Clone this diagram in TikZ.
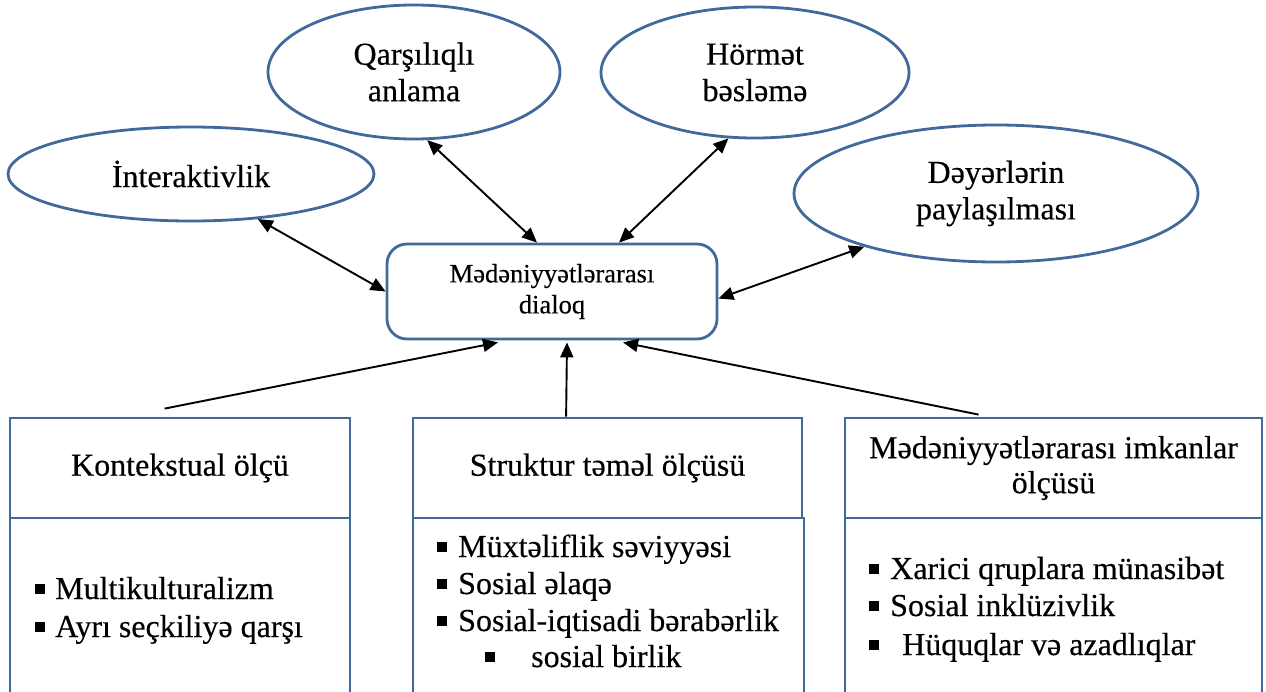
\documentclass[tikz,border=0pt]{standalone}
\usepackage{fontspec}
\setmainfont{Liberation Serif}[UprightFeatures={FakeBold=0.35}]
\usetikzlibrary{arrows.meta,shapes.geometric,calc}
\definecolor{bord}{RGB}{65,105,155}
\newcommand\sqb{\rule[5pt]{10pt}{10pt}}
\begin{document}
\begin{tikzpicture}[x=1pt,y=-1pt,
  ell/.style={ellipse,draw=bord,line width=2.8pt,inner sep=0pt,align=center,font=\fontsize{32}{36.5}\selectfont},
  hdr/.style={rectangle,draw=bord,line width=2.8pt,inner sep=0pt,align=center,font=\fontsize{32}{35}\selectfont},
  bodybox/.style={rectangle,draw=bord,line width=2.8pt,inner sep=0pt},
  item/.style={anchor=base west,inner sep=0pt,font=\fontsize{32}{37}\selectfont},
  biarr/.style={{Triangle[length=15pt,width=13pt]}-{Triangle[length=15pt,width=13pt]},line width=1.9pt},
  onearr/.style={-{Triangle[length=15pt,width=13pt]},line width=1.9pt}
]
\useasboundingbox (0,0) rectangle (1266,691);
\clip (0,0) rectangle (1266,691);

% ellipses
\node[ell,minimum width=366pt,minimum height=94pt] (int) at (191,174) {İnteraktivlik};
\node[ell,minimum width=292pt,minimum height=134pt] (qa) at (414,72) {Qarşılıqlı\\anlama};
\node[ell,minimum width=308pt,minimum height=131pt] (hb) at (755,72.5) {Hörmət\\bəsləmə};
\node[ell,minimum width=404pt,minimum height=137pt] (dp) at (996,193.5) {Dəyərlərin\\paylaşılması};

% central box
\node[rectangle,rounded corners=20pt,draw=bord,line width=2.8pt,minimum width=330pt,minimum height=95pt,
      align=center,font=\fontsize{26.5}{31}\selectfont] (dlg) at (552,291.5) {Mədəniyyətlərarası\\dialoq};

% header boxes
\node[hdr,minimum width=340pt,minimum height=100pt] (h1) at (180,468) {Kontekstual ölçü};
\node[hdr,minimum width=389pt,minimum height=100pt] (h2) at (607.5,468) {Struktur təməl ölçüsü};
\node[hdr,minimum width=417pt,minimum height=100pt] (h3) at (1053.5,468) {Mədəniyyətlərarası imkanlar\\ölçüsü};

% body boxes
\node[bodybox,minimum width=340pt,minimum height=200pt] (b1) at (180,618) {};
\node[bodybox,minimum width=391pt,minimum height=200pt] (b2) at (608.5,618) {};
\node[bodybox,minimum width=417pt,minimum height=200pt] (b3) at (1053.5,618) {};

% lists
\node[item] (l11) at (35,599) {\sqb\hspace{10pt}Multikulturalizm};
\node[item] (l12) at (35,637) {\sqb\hspace{10pt}Ayrı seçkiliyə qarşı};

\node[item] (l21) at (437,557) {\sqb\hspace{11pt}Müxtəliflik səviyyəsi};
\node[item] (l22) at (437,594) {\sqb\hspace{11pt}Sosial əlaqə};
\node[item] (l23) at (437,631) {\sqb\hspace{11pt}Sosial-iqtisadi bərabərlik};
\node[item] (l24) at (485,667) {\sqb\hspace{36pt}sosial birlik};

\node[item] (l31) at (869,579) {\sqb\hspace{11pt}Xarici qruplara münasibət};
\node[item] (l32) at (869,616) {\sqb\hspace{11pt}Sosial inklüzivlik};
\node[item] (l33) at (869,655) {\sqb\hspace{23pt}Hüquqlar və azadlıqlar};

% connectors
\draw[biarr] (int.-34) -- (dlg.west);
\draw[biarr] (qa.-79) -- ($(dlg.north)+(-15,0)$);
\draw[biarr] (hb.-112) -- ($(dlg.north)+(67,0)$);
\draw[biarr] (dp.-158) -- ($(dlg.east)+(0,7)$);

\coordinate (s1) at ($(h1.north west)+(156,-8)$);
\coordinate (s3) at ($(h3.north west)+(135,-2)$);
\draw[onearr] (s1) -- ($(dlg.south)+(-54,2)$);
\draw[onearr] ($(h2.north west)+(154.5,0)$) -- ($(dlg.south)+(15,2)$);
\draw[onearr] (s3) -- ($(dlg.south)+(71,2)$);
\end{tikzpicture}
\end{document}
